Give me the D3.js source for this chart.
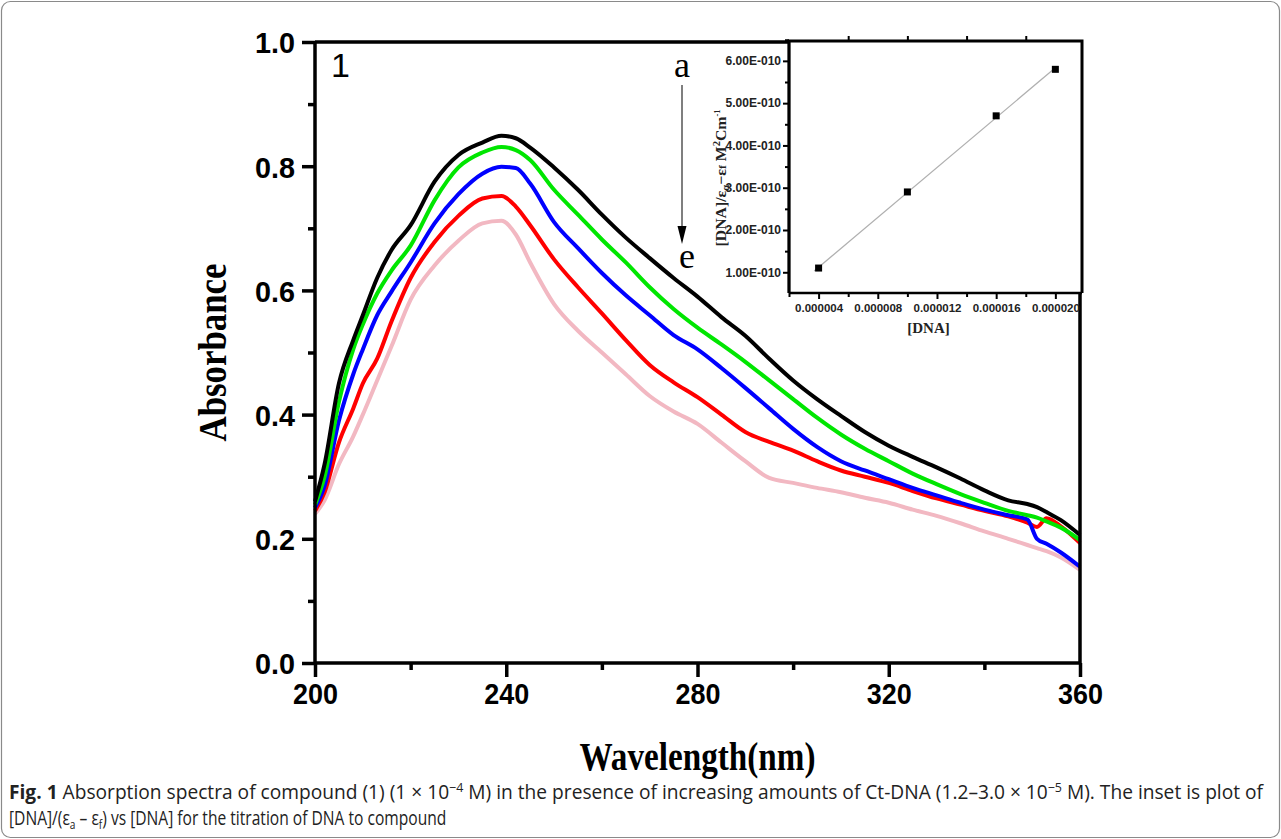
<!DOCTYPE html>
<html>
<head>
<meta charset="utf-8">
<script src="https://cdn.jsdelivr.net/npm/d3@7"></script>
<style>
  body { margin: 0; background: #fff; }
  svg { display: block; }
</style>
</head>
<body>
<div id="chart"></div>
<script>
// main spectra, curves a..e (Absorbance vs wavelength)
const wavelengths = [200,202,205,208,210,213,216,220,225,230,235,239,242,245,250,255,260,265,270,275,280,285,290,295,300,305,310,315,320,325,330,335,340,345,349,351,353,356,360];
const curveA = [0.260,0.320,0.450,0.520,0.560,0.620,0.665,0.705,0.775,0.818,0.838,0.849,0.845,0.830,0.798,0.762,0.722,0.685,0.652,0.620,0.590,0.557,0.527,0.490,0.455,0.425,0.398,0.372,0.350,0.332,0.315,0.297,0.278,0.262,0.256,0.251,0.243,0.230,0.206];
const curveB = [0.255,0.300,0.420,0.505,0.545,0.595,0.632,0.672,0.745,0.798,0.822,0.831,0.826,0.810,0.762,0.722,0.682,0.645,0.605,0.570,0.540,0.513,0.485,0.455,0.425,0.395,0.368,0.345,0.325,0.305,0.288,0.272,0.258,0.245,0.238,0.234,0.228,0.218,0.198];
const curveC = [0.250,0.285,0.390,0.465,0.505,0.560,0.598,0.645,0.708,0.755,0.788,0.799,0.797,0.772,0.710,0.668,0.628,0.592,0.560,0.528,0.505,0.475,0.443,0.410,0.377,0.348,0.325,0.310,0.296,0.282,0.270,0.258,0.247,0.238,0.231,0.200,0.192,0.178,0.155];
const curveD = [0.245,0.275,0.355,0.410,0.450,0.490,0.550,0.620,0.678,0.720,0.748,0.752,0.735,0.705,0.650,0.605,0.563,0.520,0.480,0.452,0.428,0.400,0.372,0.356,0.342,0.325,0.310,0.300,0.290,0.277,0.265,0.255,0.245,0.236,0.226,0.219,0.233,0.220,0.193];
const curveE = [0.240,0.262,0.320,0.365,0.400,0.455,0.510,0.585,0.640,0.680,0.708,0.712,0.690,0.645,0.578,0.535,0.500,0.465,0.430,0.405,0.385,0.355,0.325,0.298,0.290,0.282,0.275,0.266,0.258,0.247,0.237,0.225,0.212,0.200,0.190,0.185,0.180,0.170,0.150];
const seriesColors = ["#000000", "#00e600", "#0000ff", "#ff0000", "#f2b8c2"];

const xTicks = [200, 240, 280, 320, 360];
const yTicks = [0.0, 0.2, 0.4, 0.6, 0.8, 1.0];

// inset: [DNA] vs [DNA]/(ea-ef)
const insetDNA = [0.000004, 0.000010, 0.000016, 0.000020];
const insetRatio = [1.10e-10, 2.90e-10, 4.70e-10, 5.80e-10];
const insetXTicks = [0.000004, 0.000008, 0.000012, 0.000016, 0.000020];
const insetYTicks = [1e-10, 2e-10, 3e-10, 4e-10, 5e-10, 6e-10];

const W = 1281, H = 839;
const svg = d3.select("#chart").append("svg")
  .attr("width", W).attr("height", H);

svg.append("rect").attr("width", W).attr("height", H).attr("fill", "#fff");
svg.append("rect")
  .attr("x", 1.5).attr("y", 1.5).attr("width", W - 3).attr("height", H - 3)
  .attr("rx", 9).attr("fill", "none").attr("stroke", "#8a8a8a").attr("stroke-width", 1.2);

// ---- main plot ----
const mLeft = 315, mRight = 1080, mTop = 42, mBottom = 663;
const x = d3.scaleLinear().domain([200, 360]).range([mLeft, mRight]);
const y = d3.scaleLinear().domain([0, 1]).range([mBottom, mTop]);

const g = svg.append("g");

const line = d3.line()
  .x(d => x(d[0]))
  .y(d => y(d[1]))
  .curve(d3.curveMonotoneX);

const allCurves = [curveA, curveB, curveC, curveD, curveE];
// draw bottom-most first so black stays on top
allCurves.slice().reverse().forEach((vals, i) => {
  const idx = allCurves.length - 1 - i;
  g.append("path")
    .datum(wavelengths.map((w, j) => [w, vals[j]]))
    .attr("d", line)
    .attr("fill", "none")
    .attr("stroke", seriesColors[idx])
    .attr("stroke-width", 4)
    .attr("stroke-linejoin", "round");
});

// frame
g.append("path")
  .attr("d", `M${mLeft},${mTop}H${mRight}V${mBottom}`)
  .attr("fill", "none").attr("stroke", "#000").attr("stroke-width", 3.5);

const xAxis = g.append("g").attr("transform", `translate(0,${mBottom})`)
  .call(d3.axisBottom(x).tickValues(xTicks).tickSize(14).tickPadding(6).tickFormat(d3.format("d")));
g.append("g").attr("transform", `translate(0,${mBottom})`)
  .call(d3.axisBottom(x).tickValues(d3.range(220, 360, 40)).tickSize(7).tickFormat(""))
  .call(s => s.select(".domain").remove());

const yAxis = g.append("g").attr("transform", `translate(${mLeft},0)`)
  .call(d3.axisLeft(y).tickValues(yTicks).tickSize(13).tickPadding(7).tickFormat(d3.format(".1f")));
g.append("g").attr("transform", `translate(${mLeft},0)`)
  .call(d3.axisLeft(y).tickValues([0.1, 0.3, 0.5, 0.7, 0.9]).tickSize(7).tickFormat(""))
  .call(s => s.select(".domain").remove());

xAxis.select(".domain").attr("d", `M${mLeft},0H${mRight}`).attr("stroke-width", 3.5);
yAxis.select(".domain").attr("d", `M0,${mTop}V${mBottom}`).attr("stroke-width", 3.5);
g.selectAll(".tick line").attr("stroke-width", 3.5);

xAxis.selectAll("text")
  .attr("font-family", "Liberation Sans, Arial, sans-serif")
  .attr("font-weight", "bold").attr("font-size", 30)
  .attr("textLength", 45).attr("lengthAdjust", "spacingAndGlyphs");
yAxis.selectAll("text")
  .attr("font-family", "Liberation Sans, Arial, sans-serif")
  .attr("font-weight", "bold").attr("font-size", 30)
  .attr("dy", "0.36em")
  .attr("textLength", 40).attr("lengthAdjust", "spacingAndGlyphs");

svg.append("text")
  .attr("transform", `translate(226,${(mTop + mBottom) / 2}) rotate(-90)`)
  .attr("text-anchor", "middle")
  .attr("font-family", "Liberation Serif, Times New Roman, serif")
  .attr("font-weight", "bold").attr("font-size", 40)
  .attr("textLength", 178).attr("lengthAdjust", "spacingAndGlyphs")
  .text("Absorbance");

svg.append("text")
  .attr("x", (mLeft + mRight) / 2).attr("y", 770)
  .attr("text-anchor", "middle")
  .attr("font-family", "Liberation Serif, Times New Roman, serif")
  .attr("font-weight", "bold").attr("font-size", 39)
  .attr("textLength", 236).attr("lengthAdjust", "spacingAndGlyphs")
  .text("Wavelength(nm)");

svg.append("text")
  .attr("x", 331).attr("y", 77)
  .attr("font-family", "Liberation Sans, Arial, sans-serif")
  .attr("font-size", 34)
  .text("1");

// a -> e arrow
svg.append("text").attr("x", 682).attr("y", 77).attr("text-anchor", "middle")
  .attr("font-family", "Liberation Serif, Times New Roman, serif").attr("font-size", 36).text("a");
svg.append("text").attr("x", 687).attr("y", 268).attr("text-anchor", "middle")
  .attr("font-family", "Liberation Serif, Times New Roman, serif").attr("font-size", 36).text("e");
svg.append("line").attr("x1", 682).attr("x2", 682).attr("y1", 85).attr("y2", 228)
  .attr("stroke", "#555").attr("stroke-width", 1.5);
svg.append("path").attr("d", "M677.5,226L686.5,226L682,244Z").attr("fill", "#000");

// ---- inset ----
const iLeft = 789, iRight = 1082, iTop = 41, iBottom = 293;
const ix = d3.scaleLinear().domain([0.000002, 0.0000218]).range([iLeft, iRight]);
const iy = d3.scaleLinear().domain([0.51e-10, 6.47e-10]).range([iBottom, iTop]);
const ig = svg.append("g");

ig.append("rect").attr("x", iLeft).attr("y", iTop).attr("width", iRight - iLeft).attr("height", iBottom - iTop)
  .attr("fill", "#fff");

// least squares fit through the inset points
const mx = d3.mean(insetDNA), my = d3.mean(insetRatio);
const slope = d3.sum(insetDNA, (v, i) => (v - mx) * (insetRatio[i] - my)) / d3.sum(insetDNA, v => (v - mx) * (v - mx));
const icpt = my - slope * mx;
const fitX = [0.0000037, 0.0000200];
ig.append("path")
  .datum(fitX.map(v => [v, icpt + slope * v]))
  .attr("d", d3.line().x(d => ix(d[0])).y(d => iy(d[1])))
  .attr("stroke", "#b0b0b0").attr("stroke-width", 1.3).attr("fill", "none");

ig.selectAll("rect.pt").data(insetDNA).enter().append("rect")
  .attr("class", "pt")
  .attr("x", (d) => ix(d) - 3.5).attr("y", (d, i) => iy(insetRatio[i]) - 3.5)
  .attr("width", 7).attr("height", 7).attr("fill", "#000");

ig.append("path")
  .attr("d", `M${iLeft},${iBottom}V${iTop}H${iRight}V${iBottom}`)
  .attr("fill", "none").attr("stroke", "#000").attr("stroke-width", 3);

const ixAxis = ig.append("g").attr("transform", `translate(0,${iBottom})`)
  .call(d3.axisBottom(ix).tickValues(insetXTicks).tickSize(6).tickPadding(5).tickFormat(d3.format(".6f")));
ig.append("g").attr("transform", `translate(0,${iBottom})`)
  .call(d3.axisBottom(ix).tickValues([0.000002, 0.000006, 0.00001, 0.000014, 0.000018]).tickSize(4).tickFormat(""))
  .call(s => s.select(".domain").remove());
ig.append("g").attr("transform", `translate(0,${iTop})`)
  .call(d3.axisTop(ix).tickValues([0.000006, 0.00001, 0.000014, 0.000018]).tickSize(5).tickFormat(""))
  .call(s => s.select(".domain").remove());
ixAxis.select(".domain").attr("d", `M${iLeft},0H${iRight}`).attr("stroke-width", 2.5);

const expFmt = v => (v / 1e-10).toFixed(2) + "E-010";
const iyAxis = ig.append("g").attr("transform", `translate(${iLeft},0)`)
  .call(d3.axisLeft(iy).tickValues(insetYTicks).tickSize(6).tickPadding(2).tickFormat(expFmt));
ig.append("g").attr("transform", `translate(${iLeft},0)`)
  .call(d3.axisLeft(iy).tickValues([1.5e-10, 2.5e-10, 3.5e-10, 4.5e-10, 5.5e-10, 6.5e-10]).tickSize(4).tickFormat(""))
  .call(s => s.select(".domain").remove());
iyAxis.select(".domain").attr("d", `M0,${iTop}V${iBottom}`).attr("stroke-width", 2.5);
ig.selectAll(".tick line").attr("stroke-width", 2);

ixAxis.selectAll("text")
  .attr("font-family", "Liberation Sans, Arial, sans-serif")
  .attr("font-weight", "bold").attr("font-size", 11.5).attr("fill", "#222");
iyAxis.selectAll("text")
  .attr("font-family", "Liberation Sans, Arial, sans-serif")
  .attr("font-weight", "bold").attr("font-size", 12).attr("fill", "#222");

ig.append("text")
  .attr("x", (iLeft + 1068) / 2).attr("y", 333).attr("text-anchor", "middle")
  .attr("font-family", "Liberation Serif, Times New Roman, serif")
  .attr("font-weight", "bold").attr("font-size", 15).attr("fill", "#222")
  .text("[DNA]");

const iyTitle = ig.append("text")
  .attr("transform", "translate(726,178) rotate(-90)")
  .attr("text-anchor", "middle")
  .attr("font-family", "Liberation Serif, Times New Roman, serif")
  .attr("font-weight", "bold").attr("font-size", 15).attr("fill", "#222")
  .attr("textLength", 137).attr("lengthAdjust", "spacingAndGlyphs");
iyTitle.append("tspan").text("[DNA]/ε");
iyTitle.append("tspan").attr("font-size", 10).attr("dy", 3).text("α");
iyTitle.append("tspan").attr("dy", -3).text("−ε");
iyTitle.append("tspan").attr("font-size", 11).text("f");
iyTitle.append("tspan").text(" M");
iyTitle.append("tspan").attr("font-size", 10).attr("dy", -6).text("2");
iyTitle.append("tspan").attr("dy", 6).text("Cm");
iyTitle.append("tspan").attr("font-size", 8).attr("dy", -6).text("-1");

// ---- caption (condensed look via horizontal scale) ----
const capScale = 0.78;
const capG = svg.append("g").attr("transform", `translate(9,0) scale(${capScale},1)`);
const cap = capG.append("text")
  .attr("x", 0).attr("y", 799)
  .attr("font-family", "Open Sans, sans-serif")
  .attr("font-size", 20).attr("fill", "#222")
  .attr("textLength", 1254 / capScale).attr("lengthAdjust", "spacingAndGlyphs");
cap.append("tspan").attr("font-weight", "bold").text("Fig. 1");
cap.append("tspan").text(" Absorption spectra of compound (1) (1 × 10");
cap.append("tspan").attr("font-size", 13).attr("dy", -7).text("−4");
cap.append("tspan").attr("dy", 7).text(" M) in the presence of increasing amounts of Ct-DNA (1.2–3.0 × 10");
cap.append("tspan").attr("font-size", 13).attr("dy", -7).text("−5");
cap.append("tspan").attr("dy", 7).text(" M). The inset is plot of");

const cap2 = capG.append("text")
  .attr("x", 0).attr("y", 825)
  .attr("font-family", "Open Sans, sans-serif")
  .attr("font-size", 20).attr("fill", "#222");
cap2.append("tspan").text("[DNA]/(ε");
cap2.append("tspan").attr("font-size", 13).attr("dy", 4).text("a");
cap2.append("tspan").attr("dy", -4).text(" – ε");
cap2.append("tspan").attr("font-size", 13).attr("dy", 4).text("f");
cap2.append("tspan").attr("dy", -4).text(") vs [DNA] for the titration of DNA to compound");
</script>
</body>
</html>
